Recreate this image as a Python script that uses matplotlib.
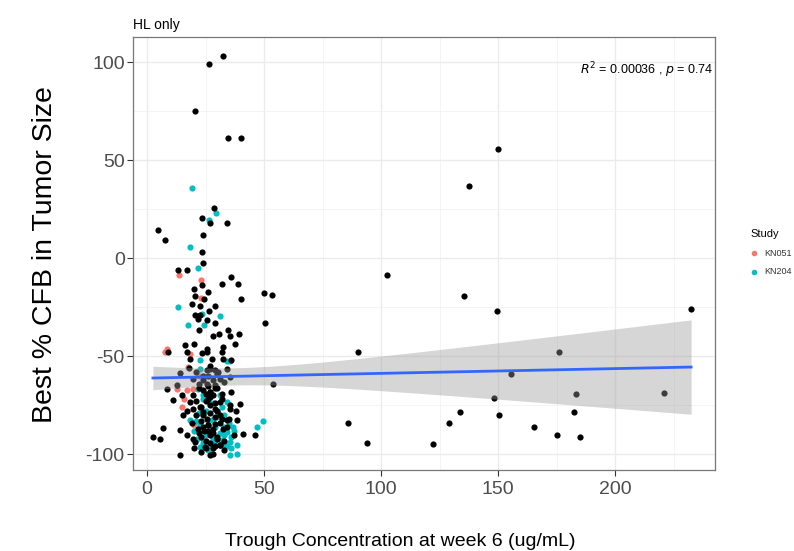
import numpy as np
import matplotlib
matplotlib.use("Agg")
import matplotlib.pyplot as plt
from matplotlib.ticker import MultipleLocator

# --- data ---
# points with no study colour (drawn black)
other_x = [32.5, 26.5, 20.5, 34.6, 40.2, 4.7, 7.7, 28.6, 26.9, 23.5, 34.2, 23.9, 23.5, 23.9,
           137.6, 150.0, 50.0, 53.4, 50.4, 102.6, 90.2, 53.8, 85.9, 94.0, 135.5, 149.6, 232.5,
           176.1, 155.6, 183.3, 220.9, 148.3, 133.8, 150.4, 182.5, 129.1, 165.4, 175.2, 185.0, 122.2,
           13.1, 17.0, 35.9, 32.1, 38.8, 20.2, 23.4, 26.1, 24.5, 20.5, 40.2, 19.4, 22.6, 29.1,
           26.5, 20.5, 22.6, 21.9, 25.5, 28.9, 22.4, 28.1, 30.9, 34.7, 35.5, 39.4, 37.6, 16.4,
           32.6, 25.5, 9.1, 17.0, 23.4, 25.5, 31.9, 18.4, 27.6, 32.6, 26.9, 29.1, 25.5, 34.1,
           14.1, 19.8, 31.2, 35.5, 12.7, 25.5, 29.1, 8.4, 19.8, 26.9, 31.9, 11.2, 18.4, 31.2,
           35.5, 22.6, 39.7, 15.5, 19.8, 24.1, 31.2, 35.5, 7.0, 5.6, 14.1, 17.0, 19.8, 21.9,
           26.2, 26.9, 29.8, 32.6, 34.1, 38.3, 31.2, 24.8, 26.9, 41.2, 46.2, 14.1, 20.5, 29.1,
           25.5, 27.0, 24.0, 28.0, 30.0, 22.0, 26.0, 29.0, 23.0, 33.0, 28.0, 21.0, 18.0, 36.0,
           20.0, 2.5, 27.5, 30.5, 24.5,
           24, 26, 27, 28, 25, 23, 27, 29, 31, 24, 26, 28, 30, 25, 27, 29, 33, 23, 21, 19,
           17, 15, 33, 36, 38, 37, 34, 22, 20, 28, 30, 26, 32, 24, 29, 22, 25, 27, 30, 32,
           26, 23, 28, 31, 24, 21, 35, 29, 27, 25]
other_y = [103.1, 99.0, 75.0, 61.2, 61.2, 14.3, 9.2, 25.5, 17.9, 20.4, 17.9, 11.7, 3.1, -2.6,
           36.7, 55.6, -17.9, -18.9, -33.2, -8.7, -48.0, -64.3, -84.2, -94.4, -19.4, -27.0, -26.0,
           -48.0, -59.2, -69.4, -68.9, -71.4, -78.6, -80.1, -78.6, -84.2, -86.2, -90.3, -91.3, -94.9,
           -5.8, -5.8, -9.5, -13.3, -13.3, -15.8, -13.8, -17.2, -20.6, -19.4, -20.8, -23.6, -24.5, -24.3,
           -27.0, -29.1, -29.1, -30.8, -31.3, -32.8, -36.4, -39.6, -38.6, -36.7, -39.6, -38.9, -43.5, -44.4,
           -45.3, -46.1, -47.8, -47.8, -48.1, -47.8, -47.8, -51.2, -51.2, -51.2, -56.3, -57.1, -57.1, -56.3,
           -58.3, -61.4, -61.4, -60.6, -64.8, -63.9, -64.8, -66.5, -69.9, -68.2, -69.0, -72.4, -73.3, -73.3,
           -75.0, -75.9, -74.1, -80.1, -77.0, -78.4, -80.1, -76.7, -86.6, -92.0, -87.8, -90.3, -92.0, -86.9,
           -85.2, -90.3, -92.0, -86.9, -82.7, -82.7, -95.4, -96.3, -100.5, -89.4, -90.3, -100.5, -93.7, -84.3,
           -81.8, -55.0, -60.0, -62.0, -66.0, -66.0, -72.0, -77.0, -83.0, -93.0, -97.0, -58.0, -56.0, -52.0,
           -44.0, -91.0, -70.0, -58.0, -88.0,
           -62, -65, -68, -70, -73, -76, -79, -81, -84, -86, -88, -89, -91, -93, -94, -96, -98, -99, -80, -84,
           -78, -70, -63, -68, -78, -90, -86, -89, -97, -100, -59, -60, -72, -67, -74, -64, -69, -75, -78, -82,
           -85, -91, -87, -95, -80, -73, -82, -66, -71, -97]

kn051_x = [13.8, 22.9, 23.1, 8.4, 7.7, 18.4, 17.6, 12.7, 17.0, 19.8, 14.8, 24.1, 20.0, 16.0, 22.0]
kn051_y = [-8.7, -11.2, -20.3, -46.4, -47.8, -48.6, -55.5, -66.5, -67.3, -66.5, -75.9, -92.0, -85.0, -72.0, -60.0]

kn204_x = [19.2, 29.5, 26.5, 18.4, 21.8, 13.1, 31.2, 23.4, 17.4, 24.4, 22.6, 22.6, 34.1, 35.5,
           21.9, 24.1, 26.9, 31.2, 34.1, 18.4, 22.6, 27.6, 27.6, 21.2, 34.1, 36.9, 35.5, 32.6,
           22.6, 38.3, 35.5, 38.3, 46.9, 49.4, 27.6, 31.9, 30.0, 25.0, 33.0,
           25, 29, 31, 24, 33, 28, 36, 20, 26, 34, 30, 23, 27, 32, 35, 22, 29, 37, 26, 31,
           24, 28, 33, 21, 36]
kn204_y = [35.7, 23.0, 19.4, 5.6, -5.1, -24.8, -29.6, -28.2, -34.2, -34.2, -52.0, -56.3, -52.6, -52.6,
           -66.5, -71.6, -74.1, -69.9, -73.3, -82.7, -85.2, -82.7, -87.8, -92.0, -88.6, -86.1, -93.7, -95.4,
           -96.3, -95.4, -100.5, -99.6, -86.1, -83.2, -96.3, -92.9, -78.0, -90.0, -80.0,
           -78, -86, -89, -94, -90, -92, -97, -88, -83, -96, -81, -91, -99, -76, -84, -79, -93, -88, -98, -95,
           -70, -74, -86, -83, -91]

x_ticks = [0, 50, 100, 150, 200]
y_ticks = [-100, -50, 0, 50, 100]
annotation = r"$R^2$ = 0.00036 , $p$ = 0.74"

# --- linear fit with 95% confidence band (computed from the points) ---
x_all = np.array(other_x + kn051_x + kn204_x, dtype=float)
y_all = np.array(other_y + kn051_y + kn204_y, dtype=float)
n = len(x_all)
slope, intercept = np.polyfit(x_all, y_all, 1)
resid = y_all - (intercept + slope * x_all)
s = np.sqrt(np.sum(resid ** 2) / (n - 2))
xbar = x_all.mean()
sxx = np.sum((x_all - xbar) ** 2)
xs = np.linspace(x_all.min(), x_all.max(), 100)
fit = intercept + slope * xs
se = s * np.sqrt(1.0 / n + (xs - xbar) ** 2 / sxx)
tcrit = 1.968

plt.rcParams["font.family"] = ["Liberation Sans", "DejaVu Sans"]
plt.rcParams["axes.unicode_minus"] = False

fig = plt.figure(figsize=(7.94, 5.51), dpi=100)
ax = fig.add_axes([133 / 794, 1 - 470 / 551, 582 / 794, 433 / 551])

ax.scatter(kn051_x, kn051_y, s=20, color="#F8766D", linewidths=0, zorder=3, label="KN051")
ax.scatter(kn204_x, kn204_y, s=20, color="#00BFC4", linewidths=0, zorder=3, label="KN204")
ax.scatter(other_x, other_y, s=20, color="black", linewidths=0, zorder=3)

ax.fill_between(xs, fit - tcrit * se, fit + tcrit * se, color="#999999", alpha=0.4,
                linewidth=0, zorder=4)
ax.plot(xs, fit, color="#3366FF", lw=2, zorder=5)

ax.set_xlim(-6, 242.7)
ax.set_ylim(-108, 112.8)
ax.set_xticks(x_ticks)
ax.set_yticks(y_ticks)
ax.xaxis.set_minor_locator(MultipleLocator(25))
ax.yaxis.set_minor_locator(MultipleLocator(25))
ax.grid(which="major", color="#EBEBEB", lw=1.0, zorder=0)
ax.grid(which="minor", color="#F2F2F2", lw=0.6, zorder=0)
ax.set_axisbelow(True)
ax.tick_params(which="minor", length=0)
ax.tick_params(which="major", length=4, width=0.8, color="#333333",
               labelcolor="#4D4D4D", labelsize=14, pad=2)
ax.tick_params(axis="x", which="major", pad=4)
for sp in ax.spines.values():
    sp.set_color("#777777")
    sp.set_linewidth(0.9)

ax.set_xlabel("Trough Concentration at week 6 (ug/mL)", fontsize=14)
ax.xaxis.set_label_coords(0.459, -0.164)
ax.xaxis.label.set_va("center")
ax.set_ylabel("Best % CFB in Tumor Size", fontsize=20.5)
ax.yaxis.set_label_coords(-0.151, 0.497)
ax.yaxis.label.set_va("center")

ax.set_title("HL only", loc="left", fontsize=10, pad=6)
ax.text(0.998, 0.924, annotation, transform=ax.transAxes, ha="right", va="center",
        fontsize=9)

leg = ax.legend(title="Study", loc="upper left", bbox_to_anchor=(749 / 794, 1 - 227 / 551),
                bbox_transform=fig.transFigure, frameon=False, fontsize=6.5,
                title_fontsize=8, handlelength=0.6, handletextpad=0.9, markerscale=0.9,
                labelspacing=1.1, borderaxespad=0, borderpad=0.2)
leg._legend_box.align = "left"
leg._legend_box.sep = 7
for t in leg.get_texts():
    t.set_color("#333333")

fig.savefig("out.png", dpi=100)
